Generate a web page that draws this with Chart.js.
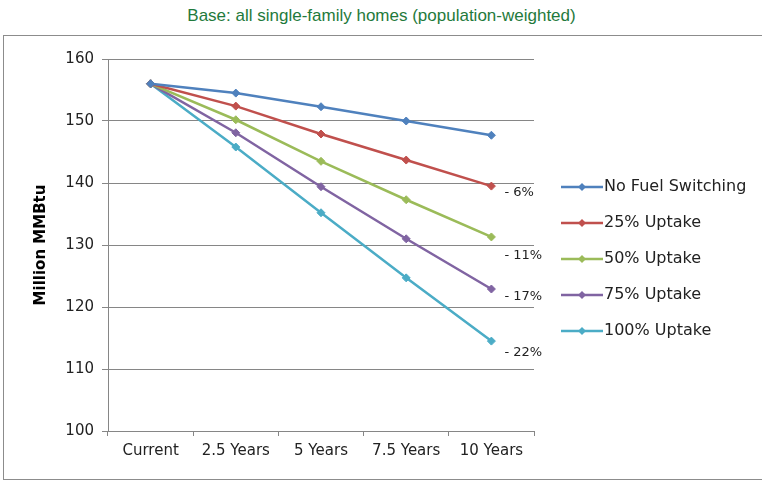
<!DOCTYPE html>
<html>
<head>
<meta charset="utf-8">
<script src="https://cdn.jsdelivr.net/npm/chart.js@4.4.0/dist/chart.umd.min.js"></script>
<style>
  body { margin: 0; background: #fff; width: 763px; height: 481px; position: relative; overflow: hidden; }
  #title { position: absolute; left: 0; top: 6px; width: 763px; text-align: center;
           font: 17px "Liberation Sans", Arial, sans-serif; color: #1f7a3c; }
  #box { position: absolute; left: 3px; top: 35px; width: 758px; height: 443px; border: 1px solid #8c8c8c;
         border-right: none; }
  canvas { position: absolute; left: 0; top: 0; }
</style>
</head>
<body>
<div id="title">Base: all single-family homes (population-weighted)</div>
<div id="box"><canvas id="chart" width="758" height="443"></canvas></div>
<script>
var periods = ['Current', '2.5 Years', '5 Years', '7.5 Years', '10 Years'];
var seriesNames = ['No Fuel Switching', '25% Uptake', '50% Uptake', '75% Uptake', '100% Uptake'];
var noSwitch = [156.0, 154.5, 152.3, 150.0, 147.7];
var uptake25 = [156.0, 152.4, 147.9, 143.7, 139.5];
var uptake50 = [156.0, 150.2, 143.5, 137.3, 131.3];
var uptake75 = [156.0, 148.1, 139.4, 131.0, 122.9];
var uptake100 = [156.0, 145.8, 135.2, 124.7, 114.5];
var endLabels = ['', '- 6%', '- 11%', '- 17%', '- 22%'];
var colors = ['#4f81bd', '#c0504d', '#9bbb59', '#8064a2', '#4bacc6'];

var fam = '"DejaVu Sans", "Liberation Sans", sans-serif';
var allSeries = [noSwitch, uptake25, uptake50, uptake75, uptake100];
var datasets = [];
for (var i = 0; i < allSeries.length; i++) {
  datasets.push({
    label: seriesNames[i],
    data: allSeries[i],
    borderColor: colors[i],
    backgroundColor: colors[i],
    borderWidth: 2.5,
    pointStyle: 'rectRot',
    pointRadius: 4,
    pointBorderWidth: 1,
    tension: 0
  });
}

// percentage notes next to the last point, and the legend at the right
var extras = {
  id: 'extras',
  afterDatasetsDraw: function(chart) {
    var c = chart.ctx;
    var area = chart.chartArea;
    c.save();
    c.font = '13px ' + fam;
    c.fillStyle = '#222';
    c.textBaseline = 'middle';
    var dys = [0, 7, 19, 8, 12];
    for (var i = 1; i < endLabels.length; i++) {
      var pts = chart.getDatasetMeta(i).data;
      var p = pts[pts.length - 1];
      c.fillText(endLabels[i], p.x + 13, p.y + dys[i]);
    }
    // legend
    var lx = area.right + 27;
    var ly = (area.top + area.bottom) / 2 - 58;
    c.font = '16px ' + fam;
    for (var j = 0; j < seriesNames.length; j++) {
      var y = ly + j * 36;
      c.strokeStyle = colors[j];
      c.lineWidth = 2.5;
      c.beginPath();
      c.moveTo(lx, y);
      c.lineTo(lx + 42, y);
      c.stroke();
      c.fillStyle = colors[j];
      c.beginPath();
      c.moveTo(lx + 21, y - 4);
      c.lineTo(lx + 25, y);
      c.lineTo(lx + 21, y + 4);
      c.lineTo(lx + 17, y);
      c.closePath();
      c.fill();
      c.fillStyle = '#222';
      c.fillText(seriesNames[j], lx + 43, y);
    }
    c.restore();
  }
};

new Chart(document.getElementById('chart'), {
  type: 'line',
  data: { labels: periods, datasets: datasets },
  options: {
    responsive: false,
    animation: false,
    layout: { padding: { top: 23, right: 228, bottom: 0, left: 0 } },
    plugins: {
      legend: { display: false },
      tooltip: { enabled: false }
    },
    scales: {
      x: {
        offset: true,
        afterFit: function(s) { s.height = 48; },
        grid: { offset: true, drawOnChartArea: false, color: '#868686', tickLength: 5, tickColor: '#868686' },
        border: { color: '#868686' },
        ticks: { color: '#222', padding: 6, font: { size: 15, family: fam } }
      },
      y: {
        min: 100,
        max: 160,
        afterFit: function(s) { s.width = 104; },
        grid: { color: '#868686', tickLength: 6 },
        border: { color: '#868686' },
        ticks: { stepSize: 10, color: '#222', padding: 8, font: { size: 15, family: fam } },
        title: {
          display: true,
          text: 'Million MMBtu',
          color: '#000',
          padding: { top: 28, bottom: 0 },
          font: { size: 15, weight: 'bold', family: fam }
        }
      }
    }
  },
  plugins: [extras]
});
</script>
</body>
</html>
